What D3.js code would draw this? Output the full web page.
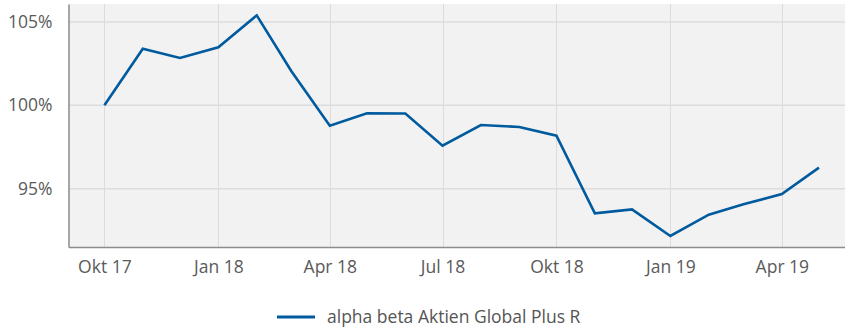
<!DOCTYPE html>
<html>
<head>
<meta charset="utf-8">
<script src="https://cdn.jsdelivr.net/npm/d3@7"></script>
<style>
  html, body { margin: 0; padding: 0; background: #fff; }
  svg { display: block; }
  text { font-family: "Open Sans", sans-serif; }
</style>
</head>
<body>
<svg id="chart" width="845" height="329"></svg>
<script>
// Monthly performance, indexed to 100% at the start (Oct 2017)
const dates = [
  "2017-10-01", "2017-11-01", "2017-12-01", "2018-01-01", "2018-02-01",
  "2018-03-01", "2018-04-01", "2018-05-01", "2018-06-01", "2018-07-01",
  "2018-08-01", "2018-09-01", "2018-10-01", "2018-11-01", "2018-12-01",
  "2019-01-01", "2019-02-01", "2019-03-01", "2019-04-01", "2019-05-01"
];
const values = [
  100.00, 103.40, 102.84, 103.48, 105.40,
  102.05, 98.78, 99.52, 99.51, 97.58,
  98.82, 98.70, 98.18, 93.52, 93.76,
  92.16, 93.44, 94.06, 94.68, 96.26
];
const xTickDates = ["2017-10-01", "2018-01-01", "2018-04-01", "2018-07-01", "2018-10-01", "2019-01-01", "2019-04-01"];
const xTickLabels = ["Okt 17", "Jan 18", "Apr 18", "Jul 18", "Okt 18", "Jan 19", "Apr 19"];
const yTicks = [95, 100, 105];
const seriesName = "alpha beta Aktien Global Plus R";

const parse = d3.utcParse("%Y-%m-%d");
const data = dates.map((d, i) => ({ date: parse(d), value: values[i] }));

const svg = d3.select("#chart");
const plotLeft = 68.5, plotRight = 845, plotTop = 4, plotBottom = 247;

const x = d3.scaleUtc()
  .domain([parse("2017-09-02"), parse("2019-05-22")])
  .range([plotLeft, plotRight]);
const y = d3.scaleLinear()
  .domain([91.5, 106.08])
  .range([plotBottom, plotTop]);

// plot background
svg.append("rect")
  .attr("x", plotLeft).attr("y", plotTop)
  .attr("width", plotRight - plotLeft).attr("height", plotBottom - plotTop)
  .attr("fill", "#f2f2f2");

// grid lines
const tickDates = xTickDates.map(parse);
svg.append("g")
  .selectAll("line")
  .data(tickDates)
  .join("line")
  .attr("x1", d => Math.round(x(d)) + 0.5).attr("x2", d => Math.round(x(d)) + 0.5)
  .attr("y1", plotTop).attr("y2", plotBottom)
  .attr("stroke", "#dcdcdc").attr("stroke-width", 1);

svg.append("g")
  .selectAll("line")
  .data(yTicks)
  .join("line")
  .attr("x1", plotLeft).attr("x2", plotRight)
  .attr("y1", d => y(d)).attr("y2", d => y(d))
  .attr("stroke", "#dcdcdc").attr("stroke-width", 1.5);

// axes
const xAxis = svg.append("g")
  .attr("transform", `translate(0,${plotBottom})`)
  .call(d3.axisBottom(x).tickValues(tickDates)
    .tickFormat((d, i) => xTickLabels[i]).tickSize(0).tickPadding(14));
xAxis.select(".domain").attr("stroke", "#8c8c8c").attr("stroke-width", 1.5);
xAxis.selectAll("text")
  .attr("font-size", "17.5px").attr("fill", "#5a5a5a")
  .attr("font-family", "'Open Sans', sans-serif");

const yAxis = svg.append("g")
  .attr("transform", `translate(${plotLeft},0)`)
  .call(d3.axisLeft(y).tickValues(yTicks)
    .tickFormat(d => d + "%").tickSize(0).tickPadding(16));
yAxis.select(".domain").attr("stroke", "#8c8c8c").attr("stroke-width", 1.5);
yAxis.selectAll("text")
  .attr("font-size", "17.5px").attr("fill", "#5a5a5a")
  .attr("font-family", "'Open Sans', sans-serif");

// performance line
const line = d3.line()
  .x(d => x(d.date))
  .y(d => y(d.value));

svg.append("path")
  .datum(data)
  .attr("d", line)
  .attr("fill", "none")
  .attr("stroke", "#005a9e")
  .attr("stroke-width", 2.6)
  .attr("stroke-linejoin", "miter");

// legend
const legend = svg.append("g").attr("transform", "translate(277,317)");
legend.append("line")
  .attr("x1", 0).attr("x2", 38).attr("y1", 0).attr("y2", 0)
  .attr("stroke", "#005a9e").attr("stroke-width", 3);
legend.append("text")
  .attr("x", 50).attr("y", 0).attr("dy", "0.35em")
  .attr("font-size", "17.5px").attr("fill", "#555")
  .text(seriesName);
</script>
</body>
</html>
